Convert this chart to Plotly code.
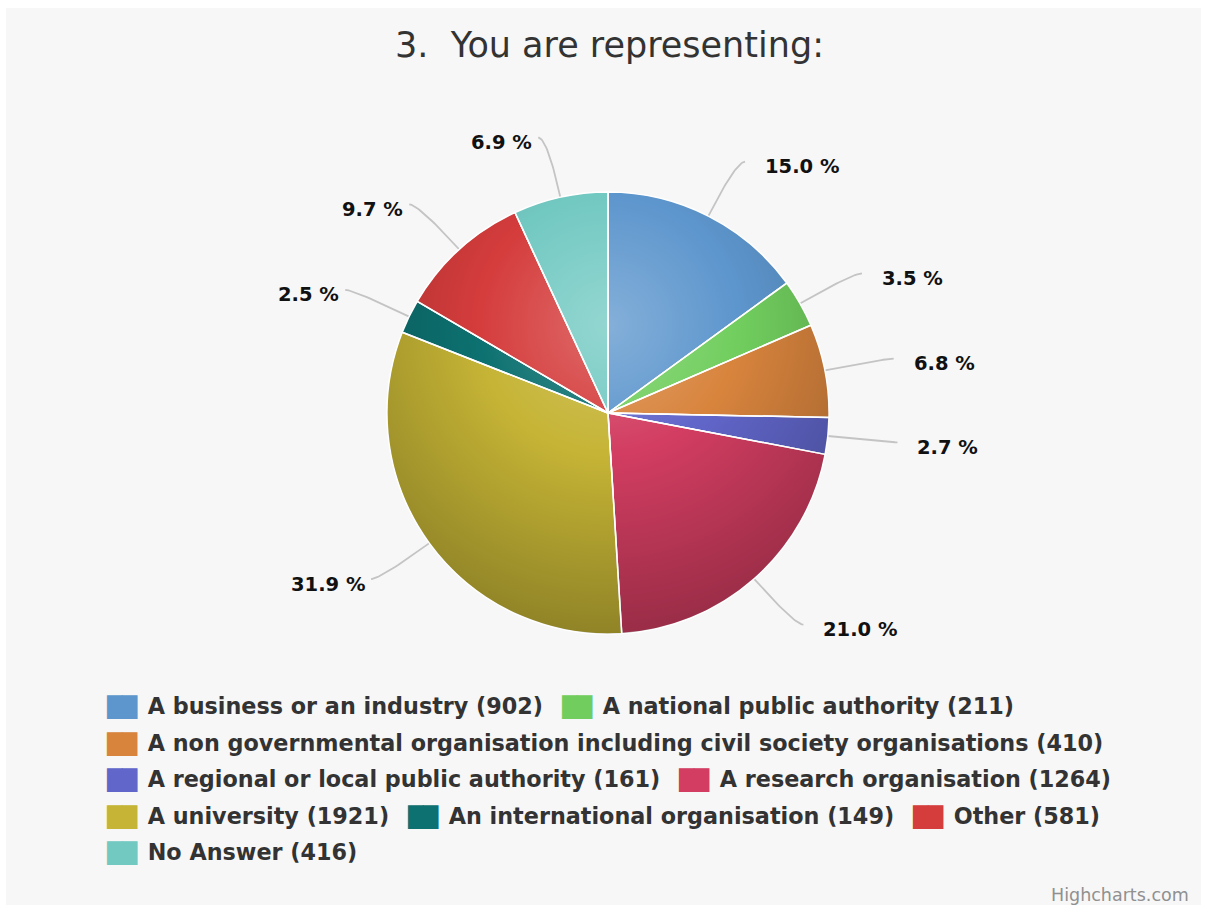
import base64
import numpy as np
import plotly.graph_objects as go

# ---- data ----
title_text = "3.\u00a0 You are representing:"
categories = [
    "A business or an industry",
    "A national public authority",
    "A non governmental organisation including civil society organisations",
    "A regional or local public authority",
    "A research organisation",
    "A university",
    "An international organisation",
    "Other",
    "No Answer",
]
counts = [902, 211, 410, 161, 1264, 1921, 149, 581, 416]
credit_text = "Highcharts.com"

# ---- style ----
# mid-tones of the shaded slice colours
colors = ["#5d96cd", "#71ce5e", "#d8843d", "#6166ca", "#d23d61",
          "#c5b435", "#0c7170", "#d53c3c", "#72c9c2"]
legend_rows = [[0, 1], [2], [3, 4], [5, 6, 7], [8]]

W, H = 1206, 907
CX, CY, R_PIE = 608, 413, 221          # pie centre / radius in pixels
R_LABEL = 282                          # radius where labels sit
FONT = "DejaVu Sans"

total = sum(counts)
fracs = np.array(counts, dtype=float) / total
ends = np.cumsum(fracs)
starts = ends - fracs
mid_ang = (starts + ends) / 2 * 2 * np.pi   # clockwise from 12 o'clock


def polar(r, a):
    return CX + r * np.sin(a), CY - r * np.cos(a)


fig = go.Figure()

# chart background panel
fig.add_shape(type="rect", xref="x", yref="y", x0=6, x1=1201, y0=8, y1=905,
              fillcolor="#f7f7f7", line=dict(width=0), layer="below")

# pie
fig.add_trace(go.Pie(
    values=counts, labels=categories, sort=False, direction="clockwise",
    rotation=0, textinfo="none", showlegend=False,
    marker=dict(colors=colors, line=dict(color="white", width=1.5)),
    domain=dict(x=[(CX - R_PIE) / W, (CX + R_PIE) / W],
                y=[(H - CY - R_PIE) / H, (H - CY + R_PIE) / H]),
    hovertemplate="%{label}: %{value} (%{percent})<extra></extra>",
))

# radial shading over the pie: lighter near the upper centre, darker to the rim
gcx, gcy, gr = R_PIE, 0.3 * 2 * R_PIE, 0.7 * 2 * R_PIE
svg = (
    f"<svg xmlns='http://www.w3.org/2000/svg' width='{2*R_PIE}' height='{2*R_PIE}' "
    f"viewBox='0 0 {2*R_PIE} {2*R_PIE}'>"
    f"<defs><radialGradient id='g' gradientUnits='userSpaceOnUse' cx='{gcx}' cy='{gcy}' r='{gr}'>"
    "<stop offset='0' stop-color='#fff' stop-opacity='0.24'/>"
    "<stop offset='0.42' stop-color='#fff' stop-opacity='0'/>"
    "<stop offset='0.42' stop-color='#000' stop-opacity='0'/>"
    "<stop offset='1' stop-color='#000' stop-opacity='0.27'/>"
    "</radialGradient></defs>"
    f"<circle cx='{R_PIE}' cy='{R_PIE}' r='{R_PIE - 0.6}' fill='url(#g)'/></svg>"
)
src = "data:image/svg+xml;base64," + base64.b64encode(svg.encode()).decode()
fig.add_layout_image(dict(
    source=src, xref="paper", yref="paper",
    x=(CX - R_PIE) / W, y=(H - CY + R_PIE) / H,
    sizex=2 * R_PIE / W, sizey=2 * R_PIE / H,
    xanchor="left", yanchor="top", sizing="stretch", layer="above",
))

# white slice separators redrawn on top of the shading
for a in ends * 2 * np.pi:
    x1, y1 = polar(R_PIE, a)
    fig.add_shape(type="line", xref="x", yref="y", x0=CX, y0=CY, x1=x1, y1=y1,
                  line=dict(color="white", width=1.5), layer="above")

# connectors + data labels
cx_pts, cy_pts = [], []
for i, a in enumerate(mid_ang):
    right = np.sin(a) >= 0
    tx, ty = polar(R_PIE, a)                  # touching the slice
    nx, ny = polar(R_LABEL, a)                # nominal label point
    label_y = ny + 5
    ex, ey = (nx + 9 if right else nx - 9), label_y - 5
    # corner: radial line meets the label's horizontal
    t_c = (CY - ey) / np.cos(a) if abs(np.cos(a)) > 1e-3 else R_LABEL
    t_c = min(max(t_c, R_PIE + 5), R_LABEL)
    kx, ky = polar(t_c, a)
    s = np.linspace(0, 1, 30)
    bx = (1 - s) ** 2 * tx + 2 * (1 - s) * s * kx + s ** 2 * ex
    by = (1 - s) ** 2 * ty + 2 * (1 - s) * s * ky + s ** 2 * ey
    cx_pts += list(bx) + [None]
    cy_pts += list(by) + [None]
    pct = fracs[i] * 100
    fig.add_annotation(
        x=nx + 27 if right else nx - 13.5, y=label_y, xref="x", yref="y",
        text=f"{pct:.1f} %", showarrow=False,
        xanchor="left" if right else "right", yanchor="middle",
        font=dict(family=FONT, size=19.5, color="#111", weight="bold"),
    )

fig.add_trace(go.Scatter(
    x=cx_pts, y=cy_pts, mode="lines", hoverinfo="skip", showlegend=False,
    line=dict(color="#c4c4c4", width=1.8, shape="linear"),
))

# title
fig.add_annotation(x=609, y=45, xref="x", yref="y", text=title_text,
                   showarrow=False, xanchor="center", yanchor="middle",
                   font=dict(family=FONT, size=35, color="#333"))

# legend rows
for r, row in enumerate(legend_rows):
    parts = []
    for k in row:
        parts.append(f"<span style='color:{colors[k]};font-size:20px;letter-spacing:-0.6px'>"
                     f"\u2588\u2588</span>\u2002{categories[k]} ({counts[k]})")
    fig.add_annotation(
        x=104, y=706 + r * 36.5, xref="x", yref="y",
        text="\u2002\u00a0".join(parts), showarrow=False,
        xanchor="left", yanchor="middle",
        font=dict(family=FONT, size=22.3, color="#333", weight="bold"),
    )

# credits
fig.add_annotation(x=1191, y=895, xref="x", yref="y", text=credit_text,
                   showarrow=False, xanchor="right", yanchor="middle",
                   font=dict(family=FONT, size=17.5, color="#909090"))

fig.update_layout(
    width=W, height=H, margin=dict(l=0, r=0, t=0, b=0),
    paper_bgcolor="white", plot_bgcolor="rgba(0,0,0,0)",
    xaxis=dict(range=[0, W], visible=False, fixedrange=True),
    yaxis=dict(range=[H, 0], visible=False, fixedrange=True),
    showlegend=False,
)

fig.write_html("out.html")
